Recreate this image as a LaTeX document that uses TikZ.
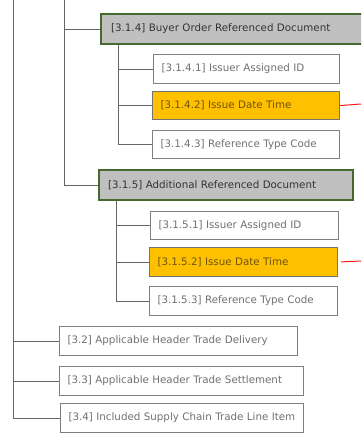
\documentclass[tikz,border=0pt]{standalone}
\usepackage{fontspec}
\setmainfont{DejaVu Sans}
\usepackage{tikz}
\usetikzlibrary{positioning,calc}
\definecolor{boxline}{RGB}{128,128,128}
\definecolor{boxtext}{RGB}{112,112,112}
\definecolor{grpfill}{RGB}{192,192,192}
\definecolor{grpline}{RGB}{70,105,50}
\definecolor{hilite}{RGB}{255,192,0}
\definecolor{hitext}{RGB}{110,85,10}

\begin{document}
\begin{tikzpicture}[
  x=1pt, y=-1pt,
  item/.style={draw=boxline, line width=1.1pt, fill=white, anchor=north west, inner xsep=7pt, inner ysep=0pt,
    font=\fontsize{10.3}{12}\selectfont, text=boxtext, align=left},
  group/.style={item, draw=grpline, line width=2.2pt, fill=grpfill, text=black!80},
  datebox/.style={item, fill=hilite, text=hitext, draw=black!55},
  tree/.style={draw=black!60, line width=1pt},
  link/.style={draw=red!90, line width=1pt},
]
  \useasboundingbox (0,0) rectangle (361,433);
  \clip (0,0) rectangle (361,433);

  % trunk lines
  \coordinate (t0) at (13,0);
  \coordinate (t1) at (64,0);

  % buyer order referenced document
  \node[group, minimum width=270pt, minimum height=30pt, text width=250pt] (b314) at (100,13) {[3.1.4] Buyer Order Referenced Document};
  \node[item, minimum width=186pt, minimum height=29pt, text width=170pt] (b3141) at (153,54) {[3.1.4.1] Issuer Assigned ID};
  \node[datebox, minimum width=187pt, minimum height=28pt, text width=171pt] (b3142) at (152,91) {[3.1.4.2] Issue Date Time};
  \node[item, minimum width=187pt, minimum height=28pt, text width=171pt] (b3143) at (152,130) {[3.1.4.3] Reference Type Code};

  % additional referenced document
  \node[group, minimum width=254pt, minimum height=30pt, text width=236pt] (b315) at (98,169) {[3.1.5] Additional Referenced Document};
  \node[item, minimum width=188pt, minimum height=28pt, text width=172pt] (b3151) at (150,211) {[3.1.5.1] Issuer Assigned ID};
  \node[datebox, minimum width=188pt, minimum height=29pt, text width=172pt] (b3152) at (149,247) {[3.1.5.2] Issue Date Time};
  \node[item, minimum width=188pt, minimum height=29pt, text width=172pt] (b3153) at (149,286) {[3.1.5.3] Reference Type Code};

  % header trade items
  \node[item, minimum width=238pt, minimum height=29pt, text width=222pt] (b32) at (59,326) {[3.2] Applicable Header Trade Delivery};
  \node[item, minimum width=244pt, minimum height=29pt, text width=228pt] (b33) at (59,366) {[3.3] Applicable Header Trade Settlement};
  \node[item, minimum width=243pt, minimum height=29pt, text width=227pt] (b34) at (60,403) {[3.4] Included Supply Chain Trade Line Item};

  \coordinate (c314) at ($(b314.south west)+(18,0)$);
  \coordinate (c315) at ($(b315.south west)+(18,0)$);
  \coordinate (r1) at (361,104);
  \coordinate (r2) at (361,261);

  \begin{scope}[on background layer/.try]
  \draw[tree] (t1) |- (b314.west);
  \draw[tree] (t1) |- (b315.west);
  \draw[tree] (c314) |- (b3141.west);
  \draw[tree] (c314) |- (b3142.west);
  \draw[tree] (c314) |- (b3143.west);
  \draw[tree] (c315) |- (b3151.west);
  \draw[tree] (c315) |- (b3152.west);
  \draw[tree] (c315) |- (b3153.west);
  \draw[tree] (t0) |- (b32.west);
  \draw[tree] (t0) |- (b33.west);
  \draw[tree] (t0) |- (b34.west);
  \end{scope}

  \draw[link] (b3142.east) -- (r1);
  \draw[link, shorten <=3pt] (b3152.east) -- (r2);
\end{tikzpicture}
\end{document}
